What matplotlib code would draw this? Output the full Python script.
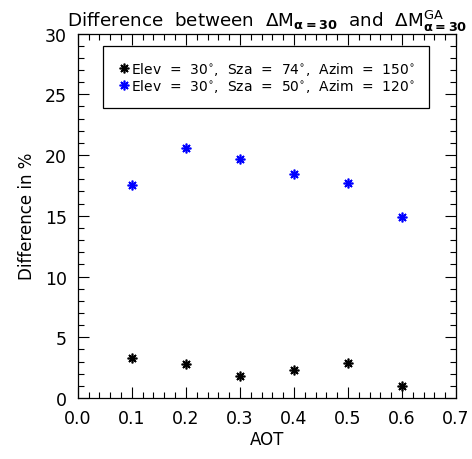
import matplotlib
matplotlib.use('Agg')
import matplotlib.pyplot as plt
from matplotlib.ticker import MultipleLocator

# Data
aot = [0.1, 0.2, 0.3, 0.4, 0.5, 0.6]
diff_sza74 = [3.3, 2.8, 1.8, 2.3, 2.9, 1.0]
diff_sza50 = [17.5, 20.6, 19.7, 18.4, 17.7, 14.9]
labels = [r'Elev  =  30$^{\circ}$,  Sza  =  74$^{\circ}$,  Azim  =  150$^{\circ}$',
          r'Elev  =  30$^{\circ}$,  Sza  =  50$^{\circ}$,  Azim  =  120$^{\circ}$']

plt.rcParams['mathtext.fontset'] = 'dejavusans'

fig = plt.figure(figsize=(4.72, 4.60), dpi=100)
ax = fig.add_axes([0.165, 0.1326, 0.801, 0.7924])

asterisk = (8, 2, 0)
ax.plot(aot, diff_sza74, linestyle='none', marker=asterisk, markersize=7,
        markeredgewidth=1.2, color='black', label=labels[0])
ax.plot(aot, diff_sza50, linestyle='none', marker=asterisk, markersize=7,
        markeredgewidth=1.2, color='#0000ff', label=labels[1])

ax.set_xlim(0, 0.7)
ax.set_ylim(0, 30)
ax.xaxis.set_major_locator(MultipleLocator(0.1))
ax.xaxis.set_minor_locator(MultipleLocator(0.02))
ax.yaxis.set_major_locator(MultipleLocator(5))
ax.yaxis.set_minor_locator(MultipleLocator(1))
ax.xaxis.set_major_formatter(plt.FuncFormatter(lambda v, p: f'{v:.1f}'))
ax.tick_params(which='both', direction='in', top=True, right=True,
               labelsize=12.5, width=0.8)
ax.tick_params(which='major', length=8, pad=8)
ax.tick_params(which='minor', length=4)
for s in ax.spines.values():
    s.set_linewidth(0.9)

ax.set_xlabel('AOT', fontsize=12, labelpad=2)
ax.set_ylabel('Difference in %', fontsize=12, labelpad=6)
ax.set_title(r'Difference  between  $\Delta\mathrm{M}_{\mathbf{\alpha=30}}$  and  '
             r'$\Delta\mathrm{M}^{\mathrm{GA}}_{\mathbf{\alpha=30}}$',
             fontsize=13.2, pad=5)

leg = ax.legend(loc='upper left', bbox_to_anchor=(0.066, 0.966), fontsize=10,
                handletextpad=0.05, handlelength=1.0, borderpad=1.0,
                labelspacing=0.0, fancybox=False, edgecolor='black',
                framealpha=1, borderaxespad=0)
leg.get_frame().set_linewidth(0.9)

fig.savefig('out.png', dpi=100)
